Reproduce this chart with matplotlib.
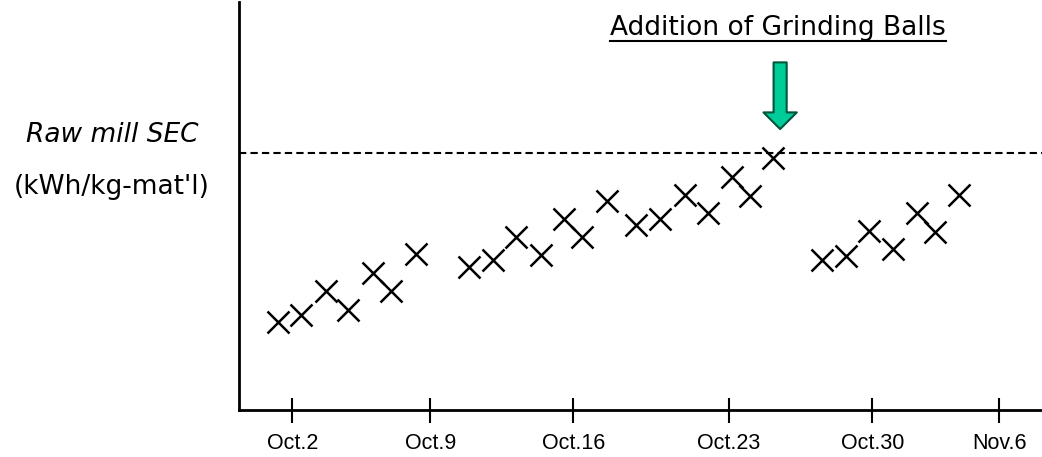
import numpy as np
import matplotlib
matplotlib.use("Agg")
import matplotlib.pyplot as plt
from matplotlib.lines import Line2D

# day positions (days from Oct.1) and SEC values (arbitrary units)
days_1 = [1.35, 2.49, 3.68, 4.77, 6.00, 6.90, 8.09]
sec_1 = [2.37, 2.55, 3.21, 2.69, 3.68, 3.21, 4.19]
days_2 = [10.68, 11.87, 13.01, 14.19, 15.34, 16.22, 17.42]
sec_2 = [3.85, 4.04, 4.66, 4.17, 5.13, 4.65, 5.64]
days_3 = [18.85, 20.02, 21.25, 22.39, 23.56, 24.43, 25.57]
sec_3 = [4.98, 5.13, 5.79, 5.30, 6.28, 5.76, 6.78]
days_4 = [27.93, 29.12, 30.25, 31.44, 32.58, 33.48, 34.62]
sec_4 = [4.04, 4.14, 4.82, 4.33, 5.31, 4.80, 5.79]

limit_sec = 6.93
ball_day = 25.9
tick_days = [2.05, 8.8, 15.8, 23.4, 30.4, 36.6]
tick_labels = ["Oct.2", "Oct.9", "Oct.16", "Oct.23", "Oct.30", "Nov.6"]

W, H = 1042, 457
fig = plt.figure(figsize=(W / 100, H / 100), dpi=100)
ax = fig.add_axes([239 / W, (H - 409.5) / H, (W - 239) / W, 407.5 / H])

days = days_1 + days_2 + days_3 + days_4
sec = sec_1 + sec_2 + sec_3 + sec_4
ax.plot(days, sec, linestyle="none", marker="x", markersize=16,
        markeredgewidth=1.8, color="black")

ax.axhline(limit_sec, color="black", linewidth=1.5, dashes=(3.5, 2.0))

# green arrow marking the grinding ball addition
ax.annotate("", xy=(ball_day, 7.57), xytext=(ball_day, 9.37),
            arrowprops=dict(arrowstyle="simple,head_length=0.6,head_width=1.2,tail_width=0.47",
                            fc="#00CC99", ec="#00553a", lw=1.5,
                            shrinkA=0, shrinkB=0, mutation_scale=20))

ax.set_xlim(-0.55, 38.7)
ax.set_ylim(0, 11)
ax.set_xticks(tick_days)
ax.set_xticklabels(tick_labels, fontsize=15.5, family="Liberation Sans")
ax.set_yticks([])
ax.tick_params(axis="x", direction="inout", length=18, width=1.5, pad=8)
for s in ["top", "right"]:
    ax.spines[s].set_visible(False)
for s in ["left", "bottom"]:
    ax.spines[s].set_linewidth(2)

fig.text(112 / W, (H - 141.7) / H, "Raw mill SEC", ha="center", va="baseline",
         fontsize=19, style="italic", family="DejaVu Sans")
fig.text(112 / W, (H - 194) / H, "(kWh/kg-mat'l)", ha="center", va="baseline",
         fontsize=19, family="DejaVu Sans")

title = fig.text(778 / W, (H - 35) / H, "Addition of Grinding Balls", ha="center",
                 va="baseline", fontsize=19, family="DejaVu Sans")

# underline the title
fig.canvas.draw()
bb = title.get_window_extent(fig.canvas.get_renderer())
fig.lines.append(Line2D([bb.x0 / W, bb.x1 / W], [(H - 41) / H, (H - 41) / H],
                        transform=fig.transFigure, color="black", linewidth=1.5))

fig.savefig("out.png", dpi=100)
